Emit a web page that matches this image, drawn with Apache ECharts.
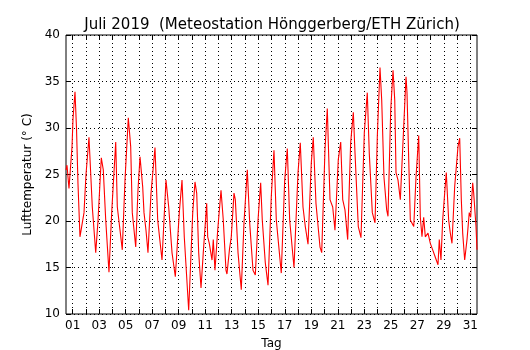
<!DOCTYPE html>
<html>
<head>
<meta charset="utf-8">
<script src="https://cdn.jsdelivr.net/npm/echarts@6/dist/echarts.min.js"></script>
<style>
  html, body { margin: 0; padding: 0; background: #fff; }
  #chart { width: 530px; height: 350px; }
</style>
</head>
<body>
<div id="chart"></div>
<script>
// hours since 1 July 2019 00:00 and air temperature (°C)
const hours = [
  0, 1.8, 5.4, 10.9, 12.7, 16.3, 19, 21.7, 25.3, 29.5, 32.6, 36.2, 41.6, 47.6, 53.8, 57.9,
  63.9, 67.5, 71.9, 77.8, 82.7, 90, 92.9, 101.9, 106.8, 112.8, 117.1, 120, 126.2, 130.3, 134,
  138.8, 141.2, 144.8, 148.4, 153.9, 161.1, 166, 173.8, 181, 185.9, 191.9, 197.9, 205.1, 210,
  214.1, 222.1, 229.4, 233.5, 236.6, 240.2, 244.4, 248.5, 254.7, 256.5, 259.4, 264.3, 266.6,
  269.7, 274.6, 280.6, 284.7, 289.6, 291.4, 296, 299.2, 304.1, 306.5, 311.4, 317.3, 322.2,
  328.2, 332.5, 338.5, 342.7, 347.6, 352.4, 355.3, 360.8, 365.7, 371.6, 376.5, 380.7, 389.7,
  395.9, 400.6, 404.9, 412.7, 420, 424.1, 429, 433.2, 438.1, 444, 447.6, 452.5, 459.8, 462.9,
  468.8, 473, 477.9, 482.8, 486.9, 492.9, 497.3, 500.9, 505, 509.9, 515.3, 520.1, 523.2, 529.1,
  534, 540, 545.4, 549, 554.5, 559.4, 563.5, 568.4, 571.5, 575.6, 580.5, 582.9, 587.8, 592,
  595.1, 597.4, 601, 605.2, 611.3, 615.5, 617.3, 620.4, 623.3, 629.5, 633.6, 638.5, 641.4,
  644.4, 647.5, 650.4, 655.3, 659.5, 663.8, 668.5, 673.4, 675.7, 678.8, 681.9, 685.5, 688.4,
  692.7, 695.7, 698.7, 703.6, 709.6, 712.7, 715.6, 718.1, 721.7, 725.9, 730, 732.6, 736.2,
  738, 742.2, 744
];
const temps = [
  25.5, 26, 23.5, 28, 31, 33.9, 30, 24, 18.3, 19.8, 20.9, 25, 29.0, 21.5, 16.6, 20,
  26.8, 25.5, 20.1, 14.5, 20.9, 28.5, 21.5, 16.9, 24.4, 31.1, 28, 20.9, 17.2, 23.3, 26.9,
  23.7, 20.9, 19, 16.6, 23, 27.9, 20.1, 15.8, 24.4, 21.5, 16.6, 14, 20.9, 24.4,
  18.3, 10.4, 20.9, 24.2, 23, 16.6, 12.8, 16.6, 21.9, 18.3, 17.6, 15.8, 18,
  14.7, 19, 23.3, 20.1, 14.7, 14.3, 17, 18.3, 23, 22.3, 16.6, 12.6, 19.8,
  25.5, 19.8, 14.7, 14.2, 20.1, 24.1, 20.1, 15.5, 13.1, 22.6, 27.6, 20.1, 14.4,
  24.4, 27.8, 20.1, 15, 25.2, 28.4, 21.5, 19.4, 17.5, 26.2, 29, 21.9, 17.2, 16.6,
  27.6, 32.1, 22.3, 21.5, 19, 26.6, 28.5, 22.3, 21.2, 18, 28.4, 31.7, 27.3, 19.4,
  18.2, 29.5, 33.8, 27.3, 20.9, 19.8, 29, 36.5, 33, 24.7, 21.2, 20.5, 31.9, 36.2,
  33, 25.2, 24.4, 22.3, 30.1, 35.5, 33.8, 26.6, 20.1, 19.4, 24.7, 29.2, 20.4,
  18.3, 20.4, 18.3, 18.7, 17.6, 16.9, 16.1, 15.3, 18, 15.8, 20.1, 23, 25.2,
  20.1, 18.7, 17.6, 23.7, 28, 28.9, 22.3, 18.7, 15.8, 18, 20.9, 20.4, 24.1,
  23, 19.4, 16.9
];
const dayTicks = Array.from({ length: 31 }, (_, i) => i + 1);
const dayLabels = dayTicks.filter(d => d % 2 === 1);

// x value: day number, with noon of day d at d
const points = hours.map((h, i) => [0.5 + h / 24, temps[i]]);

const font = 'DejaVu Sans';
const chart = echarts.init(document.getElementById('chart'), null, { renderer: 'canvas' });

const gridLine = { show: true, lineStyle: { color: '#000', type: [1, 3], width: 1 } };
const tick = { show: true, inside: true, length: 5, lineStyle: { color: '#000' } };

chart.setOption({
  animation: false,
  title: {
    text: 'Juli 2019  (Meteostation Hönggerberg/ETH Zürich)',
    left: 267,
    textAlign: 'center',
    top: 13,
    textStyle: { fontFamily: font, fontSize: 15, fontWeight: 'normal', color: '#000' }
  },
  grid: {
    left: 66, right: 53, top: 35, bottom: 36,
    outerBoundsMode: 'none',
    show: true, borderColor: '#000', borderWidth: 1, backgroundColor: 'transparent'
  },
  xAxis: [
    {
      type: 'value', min: 0.5, max: 31.5, position: 'bottom',
      name: 'Tag', nameLocation: 'middle', nameGap: 24,
      nameTextStyle: { fontFamily: font, fontSize: 12, color: '#000' },
      axisLine: { show: false },
      axisTick: Object.assign({ customValues: dayTicks }, tick),
      axisLabel: {
        customValues: dayLabels, margin: 6,
        fontFamily: font, fontSize: 12, color: '#000',
        formatter: v => String(v).padStart(2, '0')
      },
      splitLine: gridLine
    },
    {
      type: 'value', min: 0.5, max: 31.5, position: 'top',
      axisLine: { show: false },
      axisTick: Object.assign({ customValues: dayTicks }, tick),
      axisLabel: { show: false },
      splitLine: { show: false }
    }
  ],
  yAxis: [
    {
      type: 'value', min: 10, max: 40, interval: 5, position: 'left',
      name: 'Lufttemperatur (° C)', nameLocation: 'middle', nameGap: 29, nameRotate: 90,
      nameTextStyle: { fontFamily: font, fontSize: 12, color: '#000' },
      axisLine: { show: false },
      axisTick: tick,
      axisLabel: { margin: 6, fontFamily: font, fontSize: 12, color: '#000' },
      splitLine: gridLine
    },
    {
      type: 'value', min: 10, max: 40, interval: 5, position: 'right',
      axisLine: { show: false },
      axisTick: tick,
      axisLabel: { show: false },
      splitLine: { show: false }
    }
  ],
  series: [
    {
      type: 'line',
      data: points,
      showSymbol: false,
      lineStyle: { color: '#ff0000', width: 1.1 },
      z: 5
    }
  ]
});
</script>
</body>
</html>
